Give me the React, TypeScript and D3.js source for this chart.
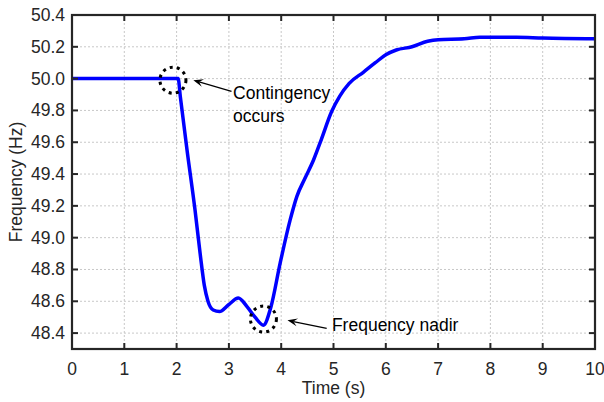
import React from "react";
import * as d3 from "d3";

const times = [0, 2.0, 2.03, 2.07, 2.2, 2.35, 2.45, 2.53, 2.6, 2.7, 2.82, 3.0, 3.18, 3.35, 3.5, 3.66, 3.8, 3.98, 4.17, 4.3, 4.45, 4.62, 4.77, 4.96, 5.12, 5.3, 5.57, 5.8, 6.0, 6.2, 6.5, 6.8, 7.0, 7.5, 7.8, 8.5, 9.0, 10];
const freqs = [50.0, 50.0, 50.0, 49.89, 49.55, 49.18, 48.9, 48.7, 48.6, 48.545, 48.535, 48.58, 48.62, 48.565, 48.5, 48.45, 48.56, 48.84, 49.11, 49.26, 49.37, 49.49, 49.62, 49.79, 49.89, 49.97, 50.04, 50.1, 50.15, 50.18, 50.2, 50.235, 50.245, 50.25, 50.26, 50.26, 50.255, 50.25];

const xTicks = [0, 1, 2, 3, 4, 5, 6, 7, 8, 9, 10];
const yTicks = [48.4, 48.6, 48.8, 49.0, 49.2, 49.4, 49.6, 49.8, 50.0, 50.2, 50.4];

const annLabels = [["Contingency", "occurs"], ["Frequency nadir"]];
const annCircle = [[1.93, 49.99], [3.66, 48.488]];
const annArrowHead = [[2.32, 49.99], [4.12, 48.48]];
const annArrowTail = [[3.05, 49.92], [4.87, 48.43]];
const annText = [[3.08, 49.871], [4.97, 48.411]];

const W = 604, H = 402;
const L = 72, R = 595, T = 15, B = 349;
const FONT = "'Liberation Sans', Arial, Helvetica, sans-serif";
const INK = "#262626";
const FS = 17.5;

export default function App() {
  const x = d3.scaleLinear().domain([0, 10]).range([L, R]);
  const y = d3.scaleLinear().domain([48.3, 50.4]).range([B, T]);
  const pts = times.map((t, i) => [t, freqs[i]] as [number, number]);
  const line = d3.line<[number, number]>().x(d => x(d[0])).y(d => y(d[1])).curve(d3.curveMonotoneX);

  const arrowHead = (hx: number, hy: number, tx: number, ty: number) => {
    const a = Math.atan2(hy - ty, hx - tx);
    const len = 10, wid = 4;
    const bx = hx - len * Math.cos(a), by = hy - len * Math.sin(a);
    const nx = -Math.sin(a), ny = Math.cos(a);
    return `M${hx},${hy} L${bx + nx * wid},${by + ny * wid} L${hx - 0.6 * len * Math.cos(a)},${hy - 0.6 * len * Math.sin(a)} L${bx - nx * wid},${by - ny * wid} Z`;
  };

  return (
    <svg width={W} height={H} style={{ position: "absolute", left: 0, top: 0, background: "#fff" }} fontFamily={FONT}>
      <rect x={0} y={0} width={W} height={H} fill="#fff" />
      {xTicks.slice(1, -1).map(t => (
        <line key={"gx" + t} x1={x(t)} x2={x(t)} y1={T} y2={B} stroke="#c8c8c8" strokeWidth={1} strokeDasharray="2,2" />
      ))}
      {yTicks.slice(0, -1).map(v => (
        <line key={"gy" + v} x1={L} x2={R} y1={y(v)} y2={y(v)} stroke="#c8c8c8" strokeWidth={1} strokeDasharray="2,2" />
      ))}
      <path d={line(pts) || ""} fill="none" stroke="#0000ff" strokeWidth={3.5} strokeLinejoin="round" />
      <rect x={L} y={T} width={R - L} height={B - T} fill="none" stroke={INK} strokeWidth={2.2} />
      {xTicks.map(t => (
        <g key={"tx" + t}>
          <line x1={x(t)} x2={x(t)} y1={B} y2={B - 6} stroke={INK} strokeWidth={2} />
          <line x1={x(t)} x2={x(t)} y1={T} y2={T + 6} stroke={INK} strokeWidth={2} />
          <text x={x(t)} y={B + 26} textAnchor="middle" fontSize={FS} fill={INK}>{t}</text>
        </g>
      ))}
      {yTicks.map(v => (
        <g key={"ty" + v}>
          <line x1={L} x2={L + 6} y1={y(v)} y2={y(v)} stroke={INK} strokeWidth={2} />
          <line x1={R} x2={R - 6} y1={y(v)} y2={y(v)} stroke={INK} strokeWidth={2} />
          <text x={L - 7} y={y(v) + 6} textAnchor="end" fontSize={FS} fill={INK}>{v.toFixed(1)}</text>
        </g>
      ))}
      <text x={(L + R) / 2} y={394} textAnchor="middle" fontSize={FS} fill={INK}>Time (s)</text>
      <text transform={`translate(22,${(T + B) / 2}) rotate(-90)`} textAnchor="middle" fontSize={FS} fill={INK}>Frequency (Hz)</text>
      {annLabels.map((lines, i) => {
        const [ct, cv] = annCircle[i];
        const hx = x(annArrowHead[i][0]), hy = y(annArrowHead[i][1]);
        const tx = x(annArrowTail[i][0]), ty = y(annArrowTail[i][1]);
        return (
          <g key={"ann" + i}>
            <circle cx={x(ct)} cy={y(cv)} r={13} fill="none" stroke="#000" strokeWidth={3} strokeDasharray="3,4.2" />
            <line x1={tx} y1={ty} x2={hx + (tx - hx) * 0.15} y2={hy + (ty - hy) * 0.15} stroke="#000" strokeWidth={1.2} />
            <path d={arrowHead(hx, hy, tx, ty)} fill="#000" />
            {lines.map((s, j) => (
              <text key={j} x={x(annText[i][0])} y={y(annText[i][1]) + j * 23} fontSize={FS} fill="#000">{s}</text>
            ))}
          </g>
        );
      })}
    </svg>
  );
}
